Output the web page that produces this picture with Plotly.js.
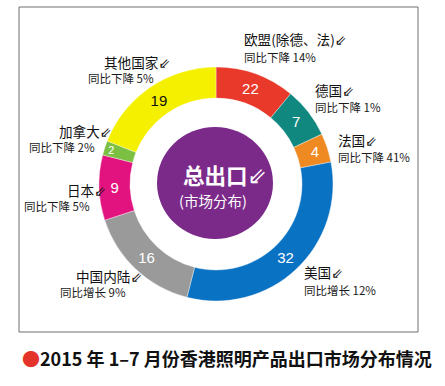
<!DOCTYPE html>
<html>
<head>
<meta charset="utf-8">
<script src="https://cdn.plot.ly/plotly-3.0.1.min.js"></script>
<style>html,body{margin:0;padding:0;background:#fff;}#chart{width:445px;height:386px;}</style>
</head>
<body>
<div id="chart"></div>
<script>
// Market names (clockwise from 12 o'clock)
const markets = ["欧盟(除德、法)", "德国", "法国", "美国", "中国内陆", "日本", "加拿大", "其他国家"];
// Numbers printed on the ring
const shareLabels = [22, 7, 4, 32, 16, 9, 2, 19];
// Arc sizes as drawn in the picture (red arc is drawn at ~11 of 100)
const arcShares = [11, 7, 4, 32, 16, 9, 2, 19];
// Year-on-year change texts
const changes = ["同比下降 14%", "同比下降 1%", "同比下降 41%", "同比增长 12%", "同比增长 9%", "同比下降 5%", "同比下降 2%", "同比下降 5%"];
const colors = ["#e8392b", "#10877f", "#ef8a22", "#0a72c3", "#9a9a9a", "#e2127f", "#7cc043", "#f5f000"];
const textColors = ["#fff", "#fff", "#fff", "#fff", "#fff", "#fff", "#fff", "#111"];

const W = 445, H = 386;
const px = x => x / W;
const py = y => 1 - y / H;

const cx = 216, cy = 184, R = 117;
const CJK = "Noto Sans CJK SC, sans-serif";
const ARROW = "<span style='font-family:DejaVu Sans;font-size:14px'>⇙</span>";

const trace = {
  type: "pie",
  values: arcShares,
  labels: markets,
  customdata: shareLabels,
  texttemplate: "%{customdata}",
  textposition: "inside",
  insidetextorientation: "horizontal",
  textfont: {family: "Liberation Sans, Arial, sans-serif", size: 15, color: textColors},
  marker: {colors: colors, line: {color: "rgba(255,255,255,0.6)", width: 0.6}},
  hole: 0.735,
  sort: false,
  direction: "clockwise",
  rotation: 0,
  hoverinfo: "none",
  showlegend: false,
  domain: {x: [px(cx - R), px(cx + R)], y: [py(cy + R), py(cy - R)]}
};

// [anchor, x of name, y of first line, x of second line start, y of second line]
const labelPos = [
  ["left", 243, 39, 243, 57],
  ["left", 314, 90.5, 314, 107],
  ["left", 337, 140.5, 337, 157],
  ["left", 303, 272, 303, 290],
  ["right", 143, 275.5, 59, 292],
  ["right", 107, 189.5, 23, 206],
  ["right", 113, 130.5, 28, 147],
  ["right", 171, 61.5, 87, 78]
];

const annotations = [];
markets.forEach((m, i) => {
  const [anc, x, y, x2, y2] = labelPos[i];
  annotations.push({
    text: m + ARROW, xref: "paper", yref: "paper", x: px(x), y: py(y),
    xanchor: anc, yanchor: "middle", showarrow: false, borderpad: 0,
    font: {family: CJK, size: 13.6, color: "#111"}
  });
  annotations.push({
    text: changes[i], xref: "paper", yref: "paper", x: px(x2), y: py(y2),
    xanchor: "left", yanchor: "middle", showarrow: false, borderpad: 0,
    font: {family: CJK, size: 11.5, color: "#1a1a1a"}
  });
});

// center texts
annotations.push({
  text: "<b>总出口</b><span style='font-family:DejaVu Sans;font-size:23px'>⇙</span>",
  xref: "paper", yref: "paper", x: px(182), y: py(174),
  xanchor: "left", yanchor: "middle", showarrow: false, borderpad: 0,
  font: {family: CJK, size: 21.5, color: "#fff"}
});
annotations.push({
  text: "(市场分布)", xref: "paper", yref: "paper", x: px(213), y: py(201),
  xanchor: "center", yanchor: "middle", showarrow: false, borderpad: 0,
  font: {family: CJK, size: 14.5, color: "#fff"}
});

// bottom title
annotations.push({
  text: "<span style='color:#e3332a'>●</span><b>2015 年 1–7 月份香港照明产品出口市场分布情况</b>",
  xref: "paper", yref: "paper", x: px(20), y: py(358),
  xanchor: "left", yanchor: "middle", showarrow: false,
  font: {family: CJK, size: 18, color: "#111"}
});

const shapes = [
  {type: "rect", xref: "paper", yref: "paper", x0: px(19), x1: px(418), y0: py(332), y1: py(7),
   line: {color: "#6e6e6e", width: 1}, fillcolor: "rgba(0,0,0,0)", layer: "below"},
  {type: "circle", xref: "paper", yref: "paper", x0: px(215 - 58), x1: px(215 + 58), y0: py(183 + 56), y1: py(183 - 56),
   line: {width: 0}, fillcolor: "#7b2a8a", layer: "above"}
];

const layout = {
  width: W, height: H,
  margin: {l: 0, r: 0, t: 0, b: 0},
  paper_bgcolor: "#fff",
  plot_bgcolor: "#fff",
  showlegend: false,
  annotations: annotations,
  shapes: shapes
};

Plotly.newPlot("chart", [trace], layout, {displayModeBar: false, staticPlot: true});
</script>
</body>
</html>
